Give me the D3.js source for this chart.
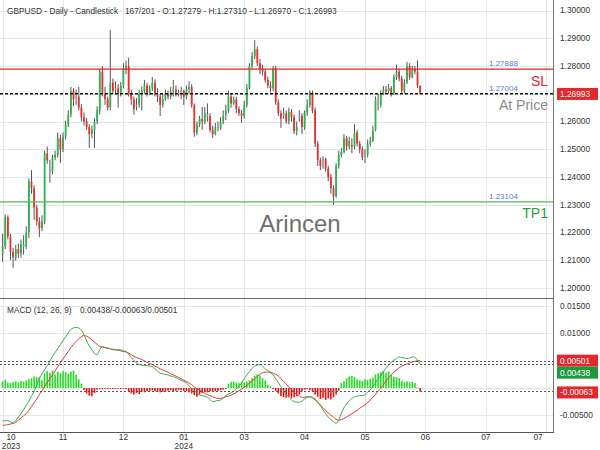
<!DOCTYPE html>
<html><head><meta charset="utf-8">
<script src="https://cdn.jsdelivr.net/npm/d3@7"></script>
<style>body{margin:0;background:#fff}svg{display:block;font-family:"Liberation Sans",Arial,sans-serif}</style>
</head><body><svg id="c" width="600" height="450"></svg>
<script>
const opens=[
1.2125,1.2150,1.2255,1.2185,1.2130,1.2110,1.2140,1.2125,1.2155,1.2150,
1.2200,1.2385,1.2360,1.2290,1.2240,1.2215,1.2240,1.2485,1.2425,1.2420,
1.2470,1.2480,1.2540,1.2500,1.2545,1.2590,1.2625,1.2710,1.2685,1.2690,
1.2650,1.2615,1.2600,1.2580,1.2555,1.2570,1.2600,1.2640,1.2780,1.2700,
1.2680,1.2650,1.2740,1.2715,1.2720,1.2700,1.2730,1.2790,1.2800,1.2700,
1.2680,1.2655,1.2660,1.2700,1.2710,1.2730,1.2700,1.2720,1.2740,1.2695,
1.2690,1.2660,1.2680,1.2700,1.2690,1.2710,1.2715,1.2705,1.2705,1.2710,
1.2690,1.2715,1.2725,1.2660,1.2560,1.2590,1.2610,1.2600,1.2625,1.2620,
1.2570,1.2555,1.2580,1.2575,1.2600,1.2625,1.2640,1.2690,1.2665,1.2680,
1.2645,1.2630,1.2620,1.2660,1.2720,1.2800,1.2835,1.2860,1.2810,1.2790,
1.2780,1.2750,1.2730,1.2720,1.2790,1.2670,1.2630,1.2625,1.2630,1.2600,
1.2635,1.2615,1.2565,1.2615,1.2620,1.2580,1.2630,1.2660,1.2705,1.2640,
1.2520,1.2460,1.2460,1.2465,1.2430,1.2400,1.2360,1.2330,1.2440,1.2480,
1.2490,1.2540,1.2510,1.2515,1.2510,1.2560,1.2520,1.2500,1.2475,1.2480,
1.2520,1.2530,1.2570,1.2665,1.2660,1.2700,1.2715,1.2710,1.2720,1.2700,
1.2760,1.2780,1.2755,1.2710,1.2740,1.2800,1.2760,1.2790,1.2780,1.27279];
const highs=[
1.2195,1.2265,1.2262,1.2195,1.2145,1.2155,1.2160,1.2175,1.2190,1.2222,
1.2395,1.2425,1.2370,1.2300,1.2255,1.2262,1.2495,1.2510,1.2462,1.2480,
1.2495,1.2560,1.2552,1.2560,1.2603,1.2640,1.2725,1.2720,1.2715,1.2725,
1.2662,1.2632,1.2612,1.2590,1.2585,1.2612,1.2655,1.2790,1.2800,1.2725,
1.2690,1.2930,1.2755,1.2745,1.2735,1.2742,1.2810,1.2820,1.2830,1.2715,
1.2690,1.2685,1.2715,1.2725,1.2750,1.2740,1.2730,1.2760,1.2752,1.2720,
1.2700,1.2700,1.2715,1.2712,1.2725,1.2750,1.2730,1.2715,1.2725,1.2715,
1.2730,1.2745,1.2735,1.2665,1.2600,1.2620,1.2652,1.2652,1.2665,1.2630,
1.2585,1.2595,1.2600,1.2615,1.2640,1.2660,1.2712,1.2700,1.2690,1.2690,
1.2655,1.2642,1.2675,1.2735,1.2810,1.2850,1.2893,1.2870,1.2825,1.2805,
1.2790,1.2762,1.2745,1.2800,1.2800,1.2680,1.2640,1.2650,1.2640,1.2650,
1.2645,1.2625,1.2600,1.2640,1.2630,1.2640,1.2680,1.2713,1.2712,1.2650,
1.2530,1.2470,1.2475,1.2470,1.2440,1.2410,1.2370,1.2450,1.2495,1.2505,
1.2555,1.2548,1.2545,1.2540,1.2590,1.2570,1.2530,1.2510,1.2500,1.2535,
1.2545,1.2585,1.2690,1.2700,1.2712,1.2728,1.2728,1.2735,1.2728,1.2770,
1.2805,1.2790,1.2765,1.2752,1.2815,1.2810,1.2800,1.2800,1.2820,1.27310];
const lows=[
1.2095,1.2140,1.2175,1.2100,1.2073,1.2098,1.2108,1.2110,1.2120,1.2140,
1.2180,1.2340,1.2245,1.2225,1.2183,1.2205,1.2230,1.2448,1.2380,1.2410,
1.2460,1.2470,1.2450,1.2490,1.2535,1.2580,1.2615,1.2655,1.2660,1.2640,
1.2600,1.2585,1.2570,1.2505,1.2540,1.2505,1.2590,1.2625,1.2690,1.2660,
1.2640,1.2640,1.2700,1.2700,1.2650,1.2690,1.2720,1.2770,1.2690,1.2660,
1.2625,1.2640,1.2650,1.2640,1.2700,1.2690,1.2695,1.2710,1.2690,1.2670,
1.2620,1.2650,1.2675,1.2680,1.2680,1.2690,1.2690,1.2690,1.2680,1.2660,
1.2680,1.2700,1.2650,1.2545,1.2550,1.2580,1.2570,1.2590,1.2600,1.2560,
1.2540,1.2550,1.2565,1.2570,1.2590,1.2605,1.2630,1.2650,1.2660,1.2630,
1.2620,1.2595,1.2610,1.2650,1.2715,1.2790,1.2825,1.2800,1.2770,1.2765,
1.2740,1.2720,1.2705,1.2710,1.2660,1.2620,1.2577,1.2610,1.2592,1.2590,
1.2600,1.2555,1.2550,1.2600,1.2555,1.2570,1.2620,1.2650,1.2630,1.2508,
1.2440,1.2425,1.2430,1.2420,1.2385,1.2340,1.2300,1.2325,1.2430,1.2470,
1.2485,1.2495,1.2500,1.2485,1.2500,1.2510,1.2485,1.2460,1.2451,1.2470,
1.2510,1.2525,1.2565,1.2640,1.2650,1.2695,1.2700,1.2700,1.2690,1.2695,
1.2750,1.2745,1.2700,1.2700,1.2735,1.2750,1.2755,1.2770,1.2720,1.26970];
const closes=[
1.2150,1.2255,1.2185,1.2130,1.2110,1.2140,1.2125,1.2160,1.2150,1.2200,
1.2385,1.2360,1.2290,1.2240,1.2215,1.2240,1.2485,1.2460,1.2420,1.2470,
1.2480,1.2540,1.2500,1.2545,1.2590,1.2625,1.2710,1.2680,1.2690,1.2650,
1.2615,1.2600,1.2580,1.2555,1.2570,1.2600,1.2640,1.2780,1.2700,1.2680,
1.2650,1.2740,1.2710,1.2720,1.2700,1.2730,1.2790,1.2800,1.2700,1.2680,
1.2645,1.2660,1.2700,1.2710,1.2730,1.2700,1.2720,1.2740,1.2700,1.2690,
1.2660,1.2680,1.2700,1.2690,1.2710,1.2715,1.2705,1.2700,1.2710,1.2690,
1.2715,1.2725,1.2660,1.2560,1.2590,1.2610,1.2600,1.2630,1.2620,1.2570,
1.2555,1.2580,1.2575,1.2600,1.2620,1.2640,1.2690,1.2665,1.2680,1.2645,
1.2630,1.2620,1.2660,1.2720,1.2800,1.2835,1.2860,1.2810,1.2790,1.2780,
1.2750,1.2730,1.2720,1.2790,1.2670,1.2630,1.2610,1.2630,1.2600,1.2635,
1.2615,1.2565,1.2580,1.2620,1.2580,1.2630,1.2660,1.2705,1.2640,1.2520,
1.2460,1.2440,1.2465,1.2430,1.2400,1.2360,1.2330,1.2440,1.2480,1.2490,
1.2540,1.2510,1.2530,1.2510,1.2560,1.2520,1.2500,1.2470,1.2480,1.2520,
1.2530,1.2570,1.2680,1.2660,1.2700,1.2715,1.2710,1.2720,1.2700,1.2760,
1.2780,1.2755,1.2710,1.2740,1.2800,1.2760,1.2790,1.2780,1.2730,1.26993];
const macdLine=[
-0.0061,-0.0060,-0.0060,-0.0062,-0.0064,-0.0060,-0.0053,-0.0047,-0.0040,-0.0032,
-0.0024,-0.0015,-0.0006,0.0006,0.0018,0.0026,0.0034,0.0041,0.0049,0.0058,
0.0065,0.0072,0.0079,0.0087,0.0094,0.0101,0.0107,0.0110,0.0111,0.0110,
0.0106,0.0098,0.0086,0.0077,0.0070,0.0063,0.0061,0.0070,0.0076,0.0074,
0.0073,0.0072,0.0070,0.0070,0.0070,0.0070,0.0068,0.0067,0.0062,0.0056,
0.0050,0.0046,0.0043,0.0042,0.0041,0.0041,0.0040,0.0039,0.0035,0.0031,
0.0027,0.0026,0.0025,0.0024,0.0022,0.0021,0.0019,0.0016,0.0014,0.0012,
0.0009,0.0004,-0.0001,-0.0005,-0.0009,-0.0013,-0.0014,-0.0015,-0.0017,-0.0021,
-0.0025,-0.0024,-0.0023,-0.0022,-0.0018,-0.0014,-0.0011,-0.0009,-0.0006,-0.0002,
0.0003,0.0009,0.0017,0.0024,0.0030,0.0036,0.0040,0.0042,0.0043,0.0040,
0.0035,0.0032,0.0028,0.0024,0.0017,0.0010,0.0002,-0.0005,-0.0012,-0.0017,
-0.0022,-0.0025,-0.0026,-0.0026,-0.0024,-0.0020,-0.0017,-0.0016,-0.0017,-0.0020,
-0.0025,-0.0032,-0.0040,-0.0047,-0.0053,-0.0058,-0.0062,-0.0065,-0.0058,-0.0046,
-0.0036,-0.0029,-0.0023,-0.0019,-0.0016,-0.0015,-0.0014,-0.0014,-0.0012,-0.0008,
-0.0003,0.0002,0.0010,0.0017,0.0022,0.0030,0.0036,0.0042,0.0047,0.0051,
0.0054,0.0057,0.0056,0.0055,0.0054,0.0055,0.0057,0.0056,0.0051,0.00438];
const signalLine=[
-0.0068,-0.0068,-0.0067,-0.0066,-0.0065,-0.0063,-0.0059,-0.0055,-0.0051,-0.0047,
-0.0041,-0.0034,-0.0027,-0.0020,-0.0012,-0.0005,0.0003,0.0010,0.0017,0.0024,
0.0031,0.0039,0.0046,0.0053,0.0060,0.0067,0.0074,0.0080,0.0085,0.0090,
0.0094,0.0096,0.0095,0.0092,0.0088,0.0084,0.0080,0.0076,0.0075,0.0074,
0.0073,0.0072,0.0071,0.0070,0.0069,0.0068,0.0067,0.0066,0.0064,0.0061,
0.0058,0.0056,0.0054,0.0052,0.0050,0.0047,0.0045,0.0043,0.0040,0.0038,
0.0035,0.0033,0.0031,0.0029,0.0026,0.0024,0.0022,0.0019,0.0017,0.0014,
0.0012,0.0009,0.0006,0.0002,-0.0001,-0.0004,-0.0007,-0.0010,-0.0012,-0.0014,
-0.0016,-0.0018,-0.0019,-0.0019,-0.0018,-0.0016,-0.0015,-0.0013,-0.0011,-0.0008,
-0.0005,-0.0002,0.0001,0.0005,0.0009,0.0013,0.0017,0.0021,0.0025,0.0028,
0.0029,0.0029,0.0029,0.0027,0.0025,0.0022,0.0017,0.0012,0.0007,0.0002,
-0.0003,-0.0008,-0.0012,-0.0015,-0.0017,-0.0017,-0.0016,-0.0016,-0.0018,-0.0022,
-0.0026,-0.0031,-0.0036,-0.0041,-0.0046,-0.0050,-0.0053,-0.0057,-0.0059,-0.0058,
-0.0056,-0.0053,-0.0050,-0.0047,-0.0044,-0.0041,-0.0037,-0.0034,-0.0031,-0.0027,
-0.0022,-0.0017,-0.0012,-0.0006,-0.0001,0.0006,0.0013,0.0019,0.0024,0.0029,
0.0033,0.0037,0.0040,0.0042,0.0044,0.0046,0.0048,0.0049,0.0050,0.00501];
const histogram=[
0.0012,0.0015,0.0010,0.0009,0.0011,0.0012,0.0010,0.0013,0.0012,0.0014,
0.0016,0.0018,0.0021,0.0020,0.0019,0.0014,0.0027,0.0031,0.0028,0.0032,
0.0025,0.0030,0.0027,0.0031,0.0029,0.0026,0.0030,0.0032,0.0024,0.0016,
0.0008,-0.0004,-0.0010,-0.0014,-0.0015,-0.0009,-0.0003,-0.0001,-0.0002,-0.0001,
-0.0002,-0.0001,-0.0002,-0.0001,-0.0001,-0.0002,-0.0001,-0.0002,-0.0006,-0.0010,
-0.0012,-0.0009,-0.0011,-0.0007,-0.0008,-0.0006,-0.0005,-0.0004,-0.0006,-0.0007,
-0.0008,-0.0007,-0.0006,-0.0005,-0.0004,-0.0006,-0.0005,-0.0004,-0.0004,-0.0005,
-0.0006,-0.0008,-0.0010,-0.0013,-0.0016,-0.0012,-0.0009,-0.0007,-0.0008,-0.0006,
-0.0007,-0.0006,-0.0005,-0.0004,-0.0003,-0.0002,0.0008,0.0011,0.0012,0.0010,
0.0009,0.0011,0.0010,0.0012,0.0014,0.0018,0.0022,0.0025,0.0023,0.0018,
0.0014,0.0006,0.0003,-0.0002,-0.0005,-0.0010,-0.0015,-0.0017,-0.0018,-0.0016,
-0.0019,-0.0017,-0.0015,-0.0012,-0.0006,-0.0003,-0.0002,-0.0004,-0.0006,-0.0012,
-0.0016,-0.0020,-0.0018,-0.0022,-0.0019,-0.0021,-0.0017,-0.0012,-0.0005,0.0009,
0.0012,0.0018,0.0021,0.0022,0.0020,0.0016,0.0014,0.0013,0.0016,0.0015,
0.0017,0.0019,0.0025,0.0027,0.0029,0.0031,0.0028,0.0030,0.0024,0.0021,
0.0020,0.0018,0.0013,0.0011,0.0012,0.0010,0.0011,0.0009,0.0001,-0.00063];

const priceTicks=[1.20,1.21,1.22,1.23,1.24,1.25,1.26,1.27,1.28,1.29,1.30];
const macdTicks=[-0.005,0,0.005,0.010,0.015];
const monthTickBars=[0,23,46,69,92,115,138,161,184,207];
const monthLabels=["10","11","12","01","03","04","05","06","07","07"];
const yearLabels=["2023","","","2024","","","","","",""];
const slPrice=1.27888, atPrice=1.27004, tpPrice=1.23104, lastPrice=1.26993;
const lastMacd=0.00438, lastHist=-0.00063, lastSignal=0.00501;
const headerLeft="GBPUSD - Daily - Candlestick";
const headerRight="167/201 - O:1.27279 - H:1.27310 - L:1.26970 - C:1.26993";

const svg=d3.select("#c");
const W=553, mainBot=298, macdBot=432;
const x=d3.scaleLinear().domain([0,207]).range([2.6,546.2]);
const y=d3.scaleLinear().domain([1.20,1.30]).range([288,10.5]);
const ym=d3.scaleLinear().domain([-0.005,0.015]).range([415.3,306.1]);
const fs=8.3;

// gridlines
const g=svg.append("g");
g.selectAll(".hg").data(priceTicks).join("line")
 .attr("x1",0).attr("x2",W).attr("y1",d=>Math.round(y(d))+0.5).attr("y2",d=>Math.round(y(d))+0.5)
 .attr("stroke","#e6e6e6");
g.selectAll(".hm").data(macdTicks).join("line")
 .attr("x1",0).attr("x2",W).attr("y1",d=>Math.round(ym(d))+0.5).attr("y2",d=>Math.round(ym(d))+0.5)
 .attr("stroke","#e6e6e6");
g.selectAll(".vg").data(monthTickBars).join("line")
 .attr("x1",d=>Math.round(x(d))+0.5).attr("x2",d=>Math.round(x(d))+0.5)
 .attr("y1",0).attr("y2",macdBot).attr("stroke","#e6e6e6");

// candles
const idx=d3.range(closes.length);
const colorOf=i=>Math.abs(closes[i]-opens[i])<=0.0005?"#9a9a9a":(closes[i]>opens[i]?"#2fb350":"#e8302f");
const cg=svg.append("g");
cg.selectAll("line").data(idx).join("line")
 .attr("x1",i=>x(i)).attr("x2",i=>x(i)).attr("y1",i=>y(highs[i])).attr("y2",i=>y(lows[i]))
 .attr("stroke","#555").attr("stroke-width",1);
cg.selectAll("rect").data(idx).join("rect")
 .attr("x",i=>x(i)-0.9).attr("width",1.8)
 .attr("y",i=>y(Math.max(opens[i],closes[i])))
 .attr("height",i=>Math.max(1,Math.abs(y(opens[i])-y(closes[i]))))
 .attr("fill",colorOf);

// level lines
svg.append("line").attr("x1",0).attr("x2",W).attr("y1",y(slPrice)).attr("y2",y(slPrice)).attr("stroke","#e02424").attr("stroke-width",1.2);
svg.append("line").attr("x1",0).attr("x2",W).attr("y1",y(tpPrice)).attr("y2",y(tpPrice)).attr("stroke","#57b65a").attr("stroke-width",1.2);
svg.append("line").attr("x1",0).attr("x2",W).attr("y1",y(atPrice)).attr("y2",y(atPrice)).attr("stroke","#111").attr("stroke-width",1.5).attr("stroke-dasharray","3,2");

const blue="#5b78d8";
[[slPrice,"1.27888"],[atPrice,"1.27004"],[tpPrice,"1.23104"]].forEach(([v,t])=>{
 svg.append("text").attr("x",489).attr("y",y(v)-3).attr("font-size",8).attr("fill",blue).text(t);
});
svg.append("text").attr("x",548).attr("y",y(slPrice)+17).attr("text-anchor","end").attr("font-size",14).attr("fill","#e02424").text("SL");
svg.append("text").attr("x",548).attr("y",y(atPrice)+16).attr("text-anchor","end").attr("font-size",14).attr("fill","#8a8a8a").text("At Price");
svg.append("text").attr("x",548).attr("y",y(tpPrice)+16).attr("text-anchor","end").attr("font-size",14).attr("fill","#2f9e35").text("TP1");
svg.append("text").attr("x",300).attr("y",232).attr("text-anchor","middle").attr("font-size",24).attr("fill","#6f6f6f").text("Arincen");

// MACD histogram
const hg=svg.append("g");
hg.selectAll("rect").data(idx).join("rect")
 .attr("x",i=>x(i)-0.8).attr("width",1.6)
 .attr("y",i=>histogram[i]>=0?ym(histogram[i]):ym(0))
 .attr("height",i=>Math.max(0.8,Math.abs(ym(histogram[i])-ym(0))))
 .attr("fill",i=>histogram[i]>=0?"#22dd22":"#ee1111");

// MACD lines
const lineGen=arr=>d3.line().x(i=>x(i)).y(i=>ym(arr[i])).curve(d3.curveMonotoneX)(idx);
svg.append("path").attr("d",lineGen(signalLine)).attr("fill","none").attr("stroke","#e8393a").attr("stroke-width",1);
svg.append("path").attr("d",lineGen(macdLine)).attr("fill","none").attr("stroke","#3aaa4a").attr("stroke-width",1);

// MACD dotted reference lines
[lastSignal,lastMacd,lastHist].forEach(v=>{
 svg.append("line").attr("x1",0).attr("x2",W).attr("y1",Math.round(ym(v))+0.5).attr("y2",Math.round(ym(v))+0.5)
  .attr("stroke","#555").attr("stroke-dasharray","2,2");
});

// frame lines
svg.append("line").attr("x1",W+0.5).attr("x2",W+0.5).attr("y1",0).attr("y2",macdBot).attr("stroke","#777");
svg.append("line").attr("x1",0).attr("x2",W).attr("y1",mainBot+0.5).attr("y2",mainBot+0.5).attr("stroke","#666");
svg.append("line").attr("x1",0).attr("x2",W+1).attr("y1",macdBot+0.5).attr("y2",macdBot+0.5).attr("stroke","#555");

// value boxes (positions)
const priceBoxY=y(lastPrice);
const sigY=ym(lastSignal);
const macdBoxY=Math.max(ym(lastMacd),sigY+12);
const histBoxY=ym(lastHist)+1;
const mainBoxes=[priceBoxY], macdBoxes=[sigY,macdBoxY,histBoxY];
const clear=(yy,list)=>list.every(b=>Math.abs(yy-b)>10);

// right axis labels (those hidden by value boxes are skipped)
svg.append("g").selectAll("text").data(priceTicks.filter(d=>clear(y(d),mainBoxes))).join("text")
 .attr("x",560).attr("y",d=>y(d)).attr("dy","0.35em").attr("font-size",fs).attr("fill","#333").text(d=>d.toFixed(5));
svg.append("g").selectAll("text").data(macdTicks.filter(d=>clear(ym(d),macdBoxes))).join("text")
 .attr("x",560).attr("y",d=>ym(d)).attr("dy","0.35em").attr("font-size",fs).attr("fill","#333").text(d=>d.toFixed(5));

function box(cy,txt,fill){
 svg.append("rect").attr("x",557).attr("y",cy-6).attr("width",41).attr("height",12).attr("fill",fill);
 svg.append("text").attr("x",560).attr("y",cy).attr("dy","0.35em").attr("font-size",fs).attr("fill","#fff").text(txt);
}
box(priceBoxY,lastPrice.toFixed(5),"#e5262b");
box(sigY,lastSignal.toFixed(5),"#e5262b");
box(macdBoxY,lastMacd.toFixed(5),"#1e9a3c");
box(histBoxY,lastHist.toFixed(5),"#e5262b");

// bottom axis labels
const xl=svg.append("g");
monthTickBars.forEach((b,k)=>{
 const px=Math.min(538,Math.max(11,x(b)));
 xl.append("text").attr("x",px).attr("y",440).attr("text-anchor","middle").attr("font-size",fs).attr("fill","#333").text(monthLabels[k]);
 if(yearLabels[k]) xl.append("text").attr("x",px).attr("y",448.5).attr("text-anchor","middle").attr("font-size",fs).attr("fill","#333").text(yearLabels[k]);
});

// headers
svg.append("text").attr("x",7).attr("y",14).attr("font-size",fs).attr("fill","#333").text(headerLeft);
svg.append("text").attr("x",125).attr("y",14).attr("font-size",fs).attr("fill","#333").text(headerRight);
svg.append("text").attr("x",7).attr("y",313).attr("font-size",fs).attr("fill","#333").text("MACD (12, 26, 9)");
svg.append("text").attr("x",80).attr("y",313).attr("font-size",fs).attr("fill","#333").text(lastMacd.toFixed(5)+"/"+lastHist.toFixed(5)+"/"+lastSignal.toFixed(5));
</script></body></html>
